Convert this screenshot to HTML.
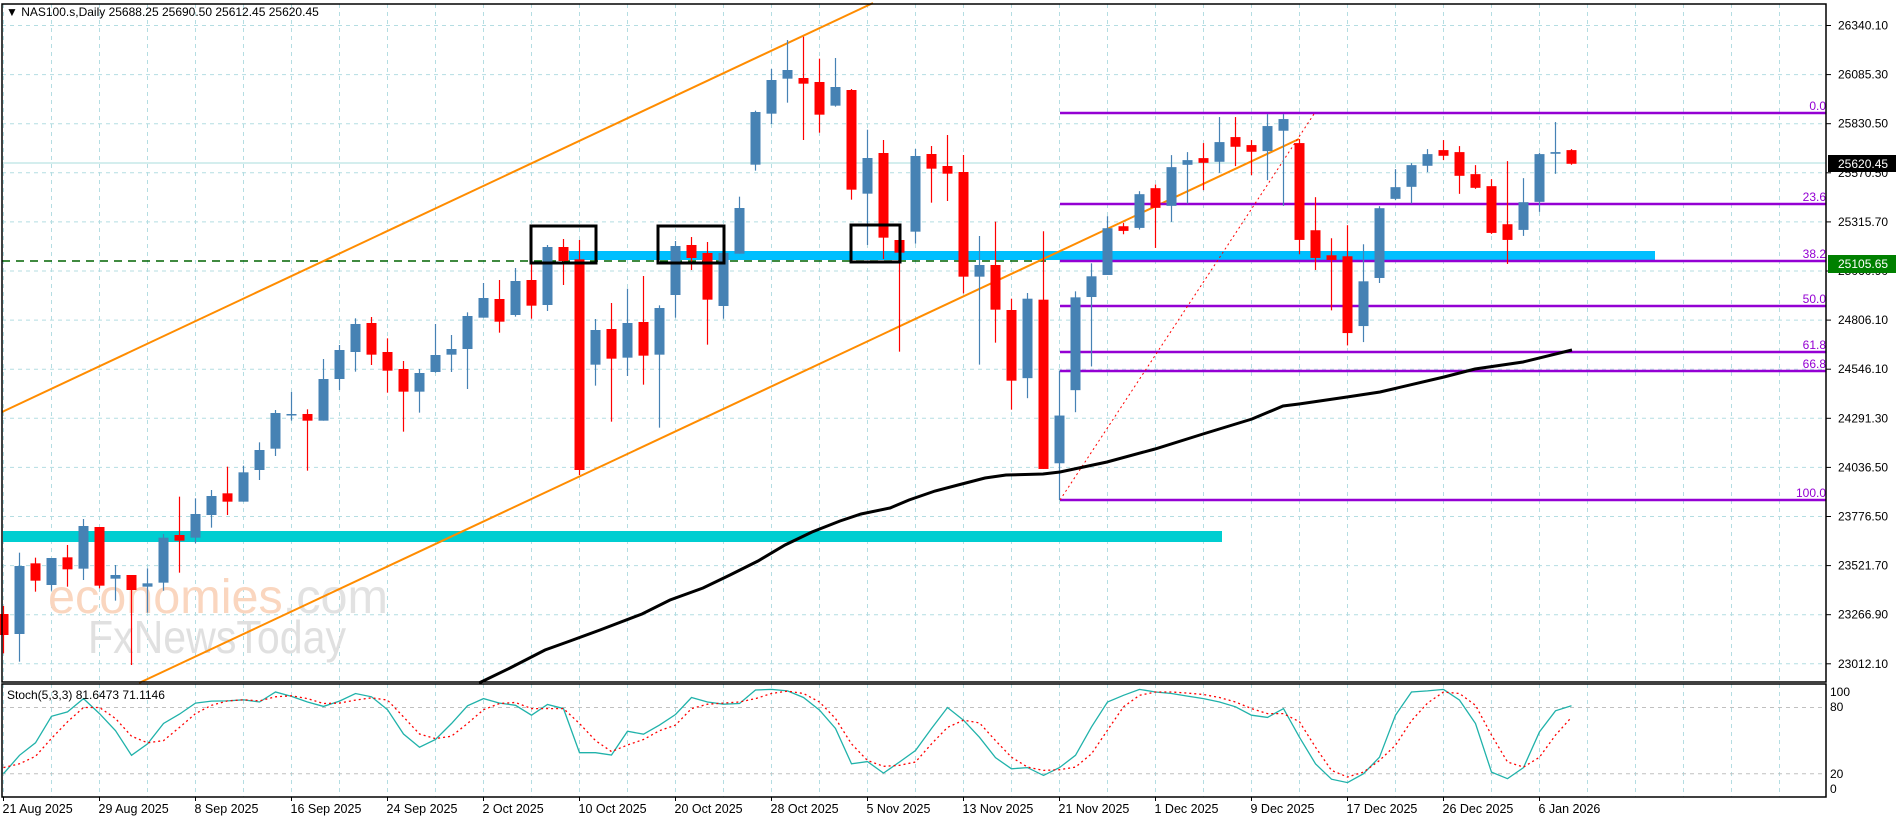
<!DOCTYPE html>
<html><head><meta charset="utf-8"><style>
html,body{margin:0;padding:0;background:#fff;}
svg{display:block;font-family:"Liberation Sans",sans-serif;}
</style></head><body>
<svg id="s" width="1896" height="820" viewBox="0 0 1896 820" xmlns="http://www.w3.org/2000/svg">
<rect x="0" y="0" width="1896" height="820" fill="#fff"/>
<g id="grid"></g>
<!-- watermark -->
<text x="48" y="613" font-size="48" textLength="340" lengthAdjust="spacingAndGlyphs"><tspan fill="#FAD6BF">economies</tspan><tspan fill="#E2E2E2">.com</tspan></text>
<text x="88" y="653" font-size="46" fill="#E0E0E0" textLength="258" lengthAdjust="spacingAndGlyphs">FxNewsToday</text>
<!-- bands -->
<rect x="3" y="531" width="1219" height="11" fill="#00CED1"/>
<rect x="569" y="251" width="1086" height="9" fill="#00BFFF"/>
<line x1="2" y1="261" x2="1052" y2="261" stroke="#006400" stroke-width="1.5" stroke-dasharray="8,6"/>
<line x1="2" y1="163" x2="1826" y2="163" stroke="#a8dcdc" stroke-width="1"/>
<!-- orange channel -->
<line x1="2" y1="412" x2="873" y2="3" stroke="#FF8C00" stroke-width="2"/>
<line x1="139" y1="683" x2="1299" y2="139" stroke="#FF8C00" stroke-width="2"/>
<!-- fib -->
<g stroke="#9400D3" stroke-width="2.5">
<line x1="1060" y1="113" x2="1826" y2="113"/>
<line x1="1060" y1="204" x2="1826" y2="204"/>
<line x1="1060" y1="261" x2="1826" y2="261"/>
<line x1="1060" y1="306" x2="1826" y2="306"/>
<line x1="1060" y1="352" x2="1826" y2="352"/>
<line x1="1060" y1="371" x2="1826" y2="371"/>
<line x1="1060" y1="500" x2="1826" y2="500"/>
</g>
<g fill="#9400D3" font-size="12" text-anchor="end">
<text x="1826" y="110">0.0</text>
<text x="1826" y="201">23.6</text>
<text x="1826" y="258">38.2</text>
<text x="1826" y="303">50.0</text>
<text x="1826" y="349">61.8</text>
<text x="1826" y="368">66.8</text>
<text x="1826" y="497">100.0</text>
</g>
<line x1="1060" y1="500" x2="1314" y2="114" stroke="#FF0000" stroke-width="1" stroke-dasharray="2,3"/>
<g id="candles"></g>
<polyline fill="none" stroke="#000" stroke-width="3" points="479,683 510,668 545,650 570,641 600,630 642,614 670,600 703,588 730,575 758,561 785,545 812,532 840,521 861,514 890,508 909,500 935,491 958,485 985,478 1006,475 1043,474 1060,472 1107,462 1155,449 1203,434 1252,419 1283,406 1299,404 1347,397 1380,392 1444,377 1475,369 1523,362 1572,350"/>
<!-- boxes -->
<g fill="none" stroke="#000" stroke-width="3">
<rect x="531" y="226" width="65" height="37"/>
<rect x="658" y="226" width="66" height="37"/>
<rect x="851" y="225" width="49" height="37"/>
</g>
<g id="stoch"></g>
<!-- frames -->
<g fill="none" stroke="#000" stroke-width="1.5">
<rect x="2" y="4" width="1824" height="678"/>
<rect x="2" y="684" width="1824" height="113"/>
</g>
<text x="6" y="16" font-size="12" fill="#000">▼ NAS100.s,Daily  25688.25 25690.50 25612.45 25620.45</text>
<text x="7" y="699" font-size="12" fill="#000">Stoch(5,3,3) 81.6473 71.1146</text>
<g id="plabels" font-size="12" fill="#000"></g>
<rect x="1828" y="155" width="68" height="17" fill="#000"/>
<text x="1838" y="168" font-size="12" fill="#fff">25620.45</text>
<rect x="1828" y="255" width="68" height="18" fill="#008000"/>
<text x="1838" y="268" font-size="12" fill="#fff">25105.65</text>
<g font-size="12" fill="#000">
<text x="1830" y="696">100</text><text x="1830" y="711">80</text><text x="1830" y="778">20</text><text x="1830" y="793">0</text>
</g>
<g id="dates" font-size="12.5" fill="#000"></g>
</svg>
<script>
var NS="http://www.w3.org/2000/svg";
function el(p,t,a,txt){var e=document.createElementNS(NS,t);for(var k in a)e.setAttribute(k,a[k]);if(txt!==undefined)e.textContent=txt;p.appendChild(e);return e;}
var g=document.getElementById('grid');
for(var k=0;k<14;k++){var y=25.5+49.1*k;el(g,'line',{x1:2,y1:y,x2:1826,y2:y,stroke:'#b4dde2','stroke-dasharray':'4,4'});}
for(var x=3.5;x<1826;x+=48){el(g,'line',{x1:x,y1:4,x2:x,y2:682,stroke:'#b4dde2','stroke-dasharray':'4,4'});el(g,'line',{x1:x,y1:684,x2:x,y2:797,stroke:'#b4dde2','stroke-dasharray':'4,4'});}
el(g,'line',{x1:2,y1:707.5,x2:1826,y2:707.5,stroke:'#c0c0c0','stroke-dasharray':'4,4'});
el(g,'line',{x1:2,y1:773.7,x2:1826,y2:773.7,stroke:'#c0c0c0','stroke-dasharray':'4,4'});
var pl=document.getElementById('plabels');
var pv=["26340.10","26085.30","25830.50","25570.50","25315.70","25060.90","24806.10","24546.10","24291.30","24036.50","23776.50","23521.70","23266.90","23012.10"];
for(var k=0;k<14;k++){var y=25.5+49.1*k;el(pl,'text',{x:1838,y:y+4},pv[k]);el(pl,'line',{x1:1826,y1:y,x2:1831,y2:y,stroke:'#000'});}
var dl=document.getElementById('dates');
var dv=["21 Aug 2025","29 Aug 2025","8 Sep 2025","16 Sep 2025","24 Sep 2025","2 Oct 2025","10 Oct 2025","20 Oct 2025","28 Oct 2025","5 Nov 2025","13 Nov 2025","21 Nov 2025","1 Dec 2025","9 Dec 2025","17 Dec 2025","26 Dec 2025","6 Jan 2026"];
for(var k=0;k<dv.length;k++){var x=3.5+96*k;el(dl,'text',{x:x-1,y:813},dv[k]);el(dl,'line',{x1:x,y1:797,x2:x,y2:801,stroke:'#000'});}
// candles [color(0 blue,1 red), bodyTop, bodyBot, wickTop, wickBot] in zoom coords
var z3=[[1,1302,1365,1278,1420],[0,1158,1362,1118,1445],[1,1150,1202,1133,1235],[0,1134,1215,1134,1232],[1,1132,1168,1095,1220],[0,1038,1166,1017,1200],[1,1041,1217,1041,1225],[0,1185,1196,1155,1262],[1,1185,1230,1185,1455],[0,1210,1220,1165,1298],[0,1073,1208,1062,1232],[1,1065,1082,950,1178],[0,1002,1073,955,1090],[0,948,1005,930,1043],[1,940,965,860,1005],[0,877,965,857,965],[0,810,870,787,900],[0,699,806,690,828],[0,702,705,636,722],[1,702,722,688,872],[0,597,722,537,722],[0,510,597,495,630],[0,432,516,415,575],[1,429,524,411,555],[1,516,572,475,638],[1,567,635,543,755],[0,579,635,567,698],[0,525,576,432,578],[0,507,524,465,576],[0,408,507,397,627],[0,354,413,309,413]];
var z4=[[1,807,875,750,908],[0,753,855,714,860],[1,750,827,700,866],[0,651,825,645,843],[1,651,693,627,765],[1,688,1320,630,1335],[0,900,1004,867,1067],[1,897,986,819,1175],[0,879,983,776,1038],[1,876,977,738,1064],[0,834,974,826,1193],[0,648,795,633,863],[1,645,684,621,720],[1,669,809,636,944],[0,669,828,669,866],[0,534,671,500,671],[0,246,404,242,422],[0,150,251,117,282],[0,120,146,30,218],[1,144,161,20,330],[1,156,254,86,308],[0,171,227,84,230],[1,180,479,177,509],[0,384,491,299,645],[1,369,623,330,687],[1,630,668,630,965],[0,378,605,357,641],[1,372,416,348,518],[1,408,431,315,513],[1,426,740,375,790],[0,705,740,618,1004],[1,705,839,575,938],[1,840,1052,806,1139]];
var z5=[[0,625,863,608,923],[1,628,1135,423,1135],[0,975,1118,840,1228],[0,621,899,603,965],[0,558,620,519,828],[0,414,554,378,554],[1,408,422,398,432],[0,312,413,303,418],[1,294,353,283,473],[0,231,347,195,395],[0,210,224,186,340],[1,204,218,159,300],[0,156,215,81,248],[1,141,170,81,228],[1,165,185,150,255],[0,108,183,72,270],[0,87,122,72,347],[1,159,449,147,492],[1,420,503,321,539],[1,495,509,444,660],[1,498,728,405,765],[0,573,707,462,755],[0,354,563,348,578],[0,291,326,237,330],[0,225,290,219,340],[0,192,227,177,246],[1,180,197,150,210],[1,186,257,168,311],[1,252,293,225,296],[1,288,428,267,431],[1,402,449,213,521],[0,336,419,264,437],[0,192,335,188,365],[0,186,191,96,251],[1,180,221,177,224]];
var bars=[];
z3.forEach(function(b){bars.push([b[0],180+b[1]/3,180+b[2]/3,180+b[3]/3,180+b[4]/3]);});
z4.forEach(function(b){bars.push([b[0],30+b[1]/3,30+b[2]/3,30+b[3]/3,30+b[4]/3]);});
z5.forEach(function(b){bars.push([b[0],90+b[1]/2.995,90+b[2]/2.995,90+b[3]/2.995,90+b[4]/2.995]);});
var cg=document.getElementById('candles');
bars.forEach(function(b,i){var x=3.5+16*i;var col=b[0]?'#FF0000':'#4682B4';
el(cg,'line',{x1:x,y1:b[3],x2:x,y2:b[4],stroke:col,'stroke-width':1.2});
var h=Math.max(b[2]-b[1],1.5);el(cg,'rect',{x:x-5,y:b[1],width:10,height:h,fill:col});});
var main=[20,36.7,48,72,76,88,74.5,59,36.7,47,65.5,74,84,85.8,86,87,85,94,90,85,81,85.8,92.7,89.7,78,56,44,51,65.5,81.5,88,84,82,73,82.7,79,39,39,37,58.5,55.8,64,73.6,89,85,83,83.6,95.8,96.4,95,89,77.6,61,29,31,20.6,30.6,41,61,80,68.5,53,34.5,24.5,25.5,18.5,25.5,36.7,62.4,85,91,96.4,94,92.7,90.3,88,85,80.6,73,71,79,53,29,15,12,20,35,73,94,95,96.4,86.7,65.5,21.5,15.5,25.5,58,77,81.6];
var sig=[25.5,29,35.8,52,67,80,80,70,54,48,50,62,74.5,82,86,87,86,89.7,90.6,88,83.6,84,86.7,88.8,86.7,71.5,56,51.8,54,65.5,78,83.6,84.5,79,79,79,65.5,50,40,46,51,59,64,79,83,84,85,88,92.7,94.8,92.7,85,70,47,32,26.7,27.6,30.6,47,62,68.5,66,50,35,26,23,23.6,26,38,59.4,80.6,91,94,94,93,91.8,89,85,79,74.5,74.5,67,44,23,17,21.5,32,45.8,68,84,94,92.7,82,55,30.6,26,35,55,71.1];
function pts(a){return a.map(function(v,i){return (3.5+16*i)+','+(795.8-v*1.104).toFixed(1);}).join(' ');}
var sg=document.getElementById('stoch');
el(sg,'polyline',{points:pts(main),fill:'none',stroke:'#20B2AA','stroke-width':1.3});
el(sg,'polyline',{points:pts(sig),fill:'none',stroke:'#FF0000','stroke-width':1.3,'stroke-dasharray':'2,3'});
</script>
</body></html>
